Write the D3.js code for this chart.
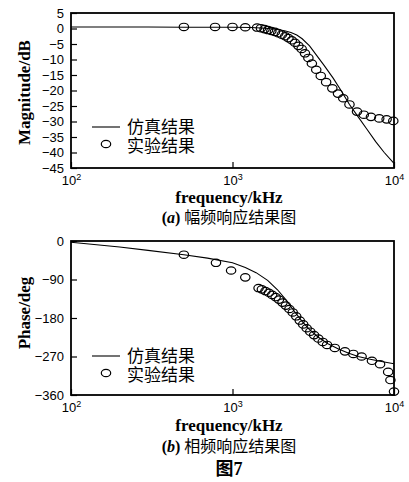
<!DOCTYPE html>
<html lang="zh">
<head>
  <meta charset="utf-8">
  <style>
    html, body {
      margin: 0;
      padding: 0;
      background: #fff;
      width: 409px;
      height: 482px;
      overflow: hidden;
    }
    svg { display: block; }
    .tick text { font-family: "Liberation Sans", Arial, sans-serif; font-size: 13px; fill: #000; }
    .lab { font-family: "Liberation Serif", "Times New Roman", serif; font-weight: bold; font-size: 17px; }
    .cjk { font-family: "Liberation Serif", "Noto Sans CJK SC", sans-serif; }
  </style>
</head>
<body>
<svg width="409" height="482"></svg>

<script src="https://cdnjs.cloudflare.com/ajax/libs/d3/7.8.5/d3.min.js"></script>
<script>
// --- data (frequency in kHz) ---
const simMagF  = [100, 300, 500, 800, 1000, 1300, 1600, 1900, 2100, 2300, 2500, 2700, 3000, 3300, 3700, 4200, 4700, 5300, 6000, 6800, 7700, 8700, 10000];
const simMagDb = [0.5, 0.5, 0.4, 0.4, 0.4, 0.3, 0.1, -0.3, -0.7, -1.3, -2.1, -3.3, -5.6, -8.5, -12, -16, -20, -24.5, -28.5, -32.5, -36.5, -40, -43.5];

const expMagF  = [500, 780, 1000, 1200, 1420, 1500, 1580, 1660, 1740, 1830, 1920, 2020, 2120, 2220, 2330, 2440, 2560, 2680, 2810, 2950, 3100, 3300, 3520, 3800, 4150, 4500, 4850, 5300, 5900, 6500, 7200, 8100, 9000, 9900];
const expMagDb = [0.5, 0.5, 0.5, 0.4, 0.3, 0.1, -0.2, -0.5, -0.8, -1.1, -1.5, -2.0, -2.5, -3.1, -3.8, -4.6, -5.6, -6.6, -8.0, -9.5, -11.3, -13.3, -15.3, -17.3, -19.3, -21, -22.5, -24.5, -26.8, -27.8, -28.5, -29, -29.3, -29.8];

const simPhF   = [100, 200, 300, 500, 700, 1000, 1200, 1400, 1650, 1900, 2150, 2400, 2700, 3000, 3400, 3900, 4500, 5200, 6000, 7000, 8200, 10000];
const simPhDeg = [-3, -14, -22, -32, -40, -51, -62, -74, -92, -114, -138, -163, -188, -207, -225, -240, -252, -262, -270, -276, -281, -287];

const expPhF   = [500, 790, 980, 1200, 1450, 1520, 1600, 1680, 1760, 1850, 1940, 2040, 2140, 2250, 2360, 2480, 2610, 2740, 2880, 3030, 3200, 3400, 3620, 3850, 4300, 4970, 5600, 6300, 7300, 8200, 9200, 9500, 10000];
const expPhDeg = [-32, -51, -69, -85, -110, -113, -117, -121, -126, -131, -137, -144, -151, -159, -167, -176, -186, -195, -204, -212, -220, -228, -236, -243, -250, -258, -264, -270, -280, -288, -306, -325, -352];

const xTicks = [100, 1000, 10000];
const magTicks = [5, 0, -5, -10, -15, -20, -25, -30, -35, -40, -45];
const phTicks = [0, -90, -180, -270, -360];
const legendNames = ["仿真结果", "实验结果"];

const svg = d3.select("svg");
const left = 71, right = 394;

function panel(o) {
  const g = svg.append("g");
  const x = d3.scaleLog().domain([100, 10000]).range([left, right]);
  const y = d3.scaleLinear().domain(o.domain).range([o.top, o.bottom]);

  // axes
  g.append("g")
    .attr("transform", `translate(${left},0)`)
    .call(d3.axisLeft(y).tickValues(o.ticks).tickSizeInner(-6).tickSizeOuter(0).tickPadding(7))
    .call(a => a.select(".domain").remove())
    .call(a => a.selectAll("line").attr("stroke", "#000").attr("stroke-width", 1.2));

  const xa = g.append("g")
    .attr("transform", `translate(0,${o.bottom})`)
    .call(d3.axisBottom(x).tickValues(xTicks).tickSizeInner(-6).tickSizeOuter(0).tickPadding(8))
    .call(a => a.select(".domain").remove())
    .call(a => a.selectAll("line").attr("stroke", "#000").attr("stroke-width", 1.2));
  xa.selectAll("text").each(function(d) {
    const t = d3.select(this).text("");
    t.append("tspan").text("10");
    t.append("tspan").attr("font-size", 9).attr("dy", -5).text(Math.round(Math.log10(d)));
  });

  // frame
  g.append("rect")
    .attr("x", left).attr("y", o.top)
    .attr("width", right - left).attr("height", o.bottom - o.top)
    .attr("fill", "none").attr("stroke", "#000").attr("stroke-width", 1.8);

  // simulation line
  const line = d3.line().x(d => x(d[0])).y(d => y(d[1]));
  g.append("path")
    .datum(d3.zip(o.simF, o.simV))
    .attr("d", line)
    .attr("fill", "none").attr("stroke", "#000").attr("stroke-width", 1.1);

  // experimental markers
  g.append("g").selectAll("ellipse")
    .data(d3.zip(o.expF, o.expV))
    .join("ellipse")
    .attr("cx", d => x(d[0])).attr("cy", d => y(d[1]))
    .attr("rx", 4.7).attr("ry", 3.7)
    .attr("fill", "none").attr("stroke", "#000").attr("stroke-width", 1.2);

  // legend (one text block, two lines)
  const lg = g.append("g");
  lg.append("line").attr("x1", 92).attr("x2", 120).attr("y1", o.leg1).attr("y2", o.leg1)
    .attr("stroke", "#000").attr("stroke-width", 1.1);
  lg.append("ellipse").attr("cx", 106).attr("cy", o.leg2 - 2).attr("rx", 4.7).attr("ry", 3.7)
    .attr("fill", "none").attr("stroke", "#000").attr("stroke-width", 1.2);
  lg.append("text")
    .attr("class", "cjk").attr("font-size", 17)
    .selectAll("tspan").data(legendNames).join("tspan")
    .attr("x", 127).attr("y", (d, i) => (i ? o.leg2 : o.leg1) + 6)
    .text(d => d);

  // axis titles
  g.append("text").attr("class", "lab")
    .attr("transform", `translate(30,${(o.top + o.bottom) / 2 + o.ylabShift}) rotate(-90)`)
    .attr("text-anchor", "middle").text(o.ylab);
  g.append("text").attr("class", "lab")
    .attr("x", 229).attr("y", o.bottom + o.freqGap)
    .attr("font-size", 16)
    .attr("text-anchor", "middle").text("frequency/kHz");

  const cap = g.append("text").attr("x", 229).attr("y", o.capY)
    .attr("class", "cjk")
    .attr("text-anchor", "middle").attr("font-size", 16);
  cap.append("tspan").attr("font-weight", "bold").text("(");
  cap.append("tspan").attr("font-weight", "bold").attr("font-style", "italic").text(o.capLetter);
  cap.append("tspan").attr("font-weight", "bold").text(") ");
  cap.append("tspan").text(o.capText);
}

panel({
  top: 13, bottom: 168, domain: [5, -45], ticks: magTicks,
  simF: simMagF, simV: simMagDb, expF: expMagF, expV: expMagDb,
  leg1: 127, leg2: 146, ylab: "Magnitude/dB", ylabShift: 2,
  freqGap: 35, capY: 223, capLetter: "a", capText: "幅频响应结果图"
});

panel({
  top: 241, bottom: 395, domain: [0, -360], ticks: phTicks,
  simF: simPhF, simV: simPhDeg, expF: expPhF, expV: expPhDeg,
  leg1: 356, leg2: 375, ylab: "Phase/deg", ylabShift: -5,
  freqGap: 36, capY: 452, capLetter: "b", capText: "相频响应结果图"
});

svg.append("text")
  .attr("x", 229).attr("y", 475)
  .attr("class", "cjk")
  .attr("text-anchor", "middle").attr("font-size", 18).attr("font-weight", "bold")
  .text("图7");
</script>
</body>
</html>
